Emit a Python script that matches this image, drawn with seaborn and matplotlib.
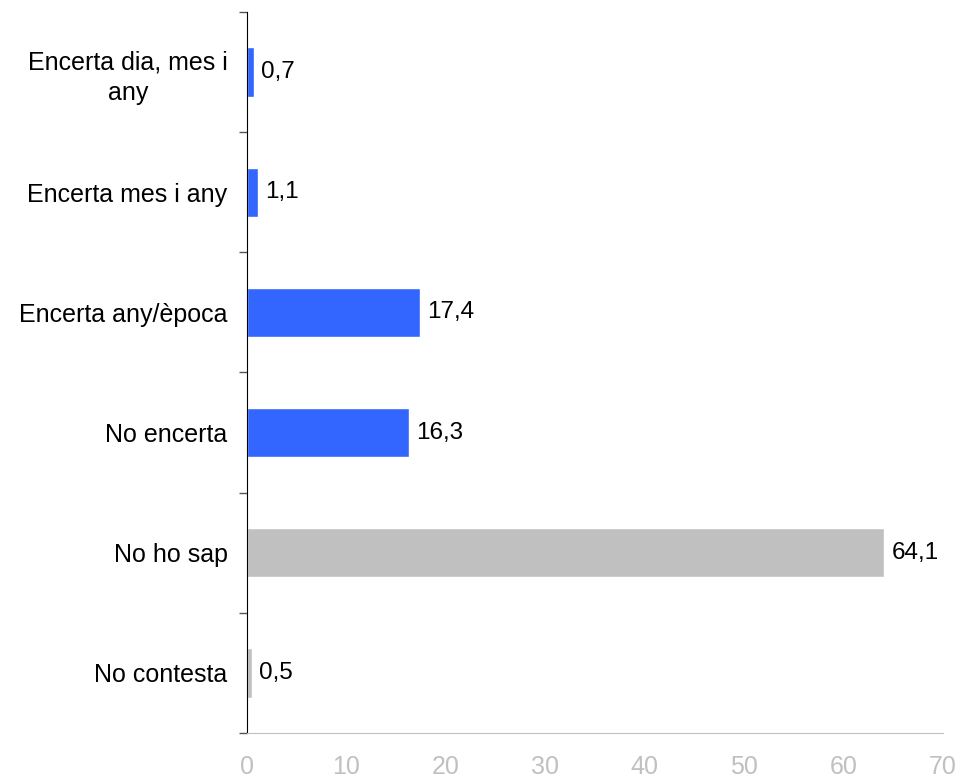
import matplotlib
matplotlib.use('Agg')
import matplotlib.pyplot as plt
import numpy as np
import pandas as pd
import seaborn as sns

categories = ['Encerta dia, mes i\nany', 'Encerta mes i any', 'Encerta any/època',
              'No encerta', 'No ho sap', 'No contesta']
values = [0.7, 1.1, 17.4, 16.3, 64.1, 0.5]
bar_colors = ['#3366FF', '#3366FF', '#3366FF', '#3366FF', '#C0C0C0', '#C0C0C0']
xticks = [0, 10, 20, 30, 40, 50, 60, 70]

sns.set_style('white')
plt.rcParams['font.family'] = ['Liberation Sans', 'DejaVu Sans']
plt.rcParams['text.color'] = 'black'
plt.rcParams['ytick.color'] = 'black'

df = pd.DataFrame({'cat': categories, 'val': values})

fig = plt.figure(figsize=(9.6, 7.8), dpi=100)
ax = fig.add_axes([0.2573, 0.0603, 0.725, 0.9243])
sns.barplot(data=df, x='val', y='cat', hue='cat', palette=bar_colors,
            orient='h', width=0.41, legend=False, saturation=1, ax=ax)

for cont, v in zip(ax.containers, values):
    ax.bar_label(cont, labels=[f'{v:.1f}'.replace('.', ',')], padding=5,
                 fontsize=17.5, color='black')

ax.set_xlim(0, 70)
ax.set_ylim(len(categories) - 0.5, -0.5)
ax.set_xticks(xticks)
ax.set_xticklabels([str(t) for t in xticks], fontsize=18, color='#C0C0C0')
ax.tick_params(axis='x', length=6, width=1, color='#C0C0C0', pad=10)

ax.set_yticks(range(len(categories)))
ax.set_yticklabels(categories, fontsize=18, multialignment='center',
                   linespacing=1.35, color='black')
ax.set_yticks(np.arange(-0.5, len(categories)), minor=True)
ax.tick_params(axis='y', which='major', length=0, pad=14)
ax.tick_params(axis='y', which='minor', length=6, width=1, color='#555555', left=True)

ax.set_xlabel('')
ax.set_ylabel('')
for side in ['top', 'right']:
    ax.spines[side].set_visible(False)
ax.spines['left'].set_color('black')
ax.spines['bottom'].set_color('#C0C0C0')

fig.savefig('out.png', dpi=100)
